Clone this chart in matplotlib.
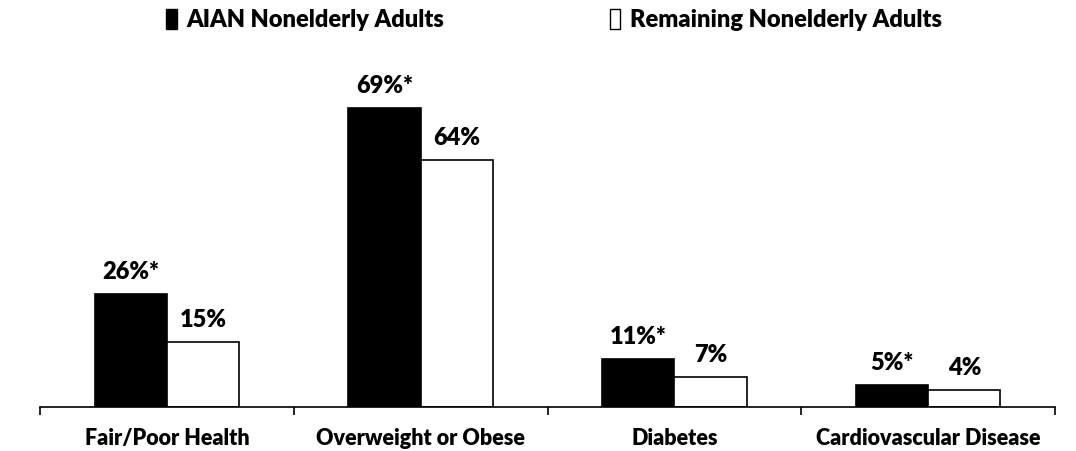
import numpy as np
import matplotlib.pyplot as plt
from matplotlib.patches import Patch

plt.rcParams['font.family'] = ['Lato', 'DejaVu Sans']
plt.rcParams['font.weight'] = 'bold'

categories = ['Fair/Poor Health', 'Overweight or Obese', 'Diabetes', 'Cardiovascular Disease']
aian = [26, 69, 11, 5]
remaining = [15, 57, 7, 4]  # bar heights as drawn in the picture
aian_labels = ['26%*', '69%*', '11%*', '5%*']
remaining_labels = ['15%', '64%', '7%', '4%']
series_names = ['AIAN Nonelderly Adults', 'Remaining Nonelderly Adults']

fig = plt.figure(figsize=(10.76, 4.51), dpi=100)
ax = fig.add_axes([40 / 1076, 44 / 451, 1015 / 1076, 347 / 451])

x = np.arange(len(categories))
w = 0.285
b1 = ax.bar(x - w / 2, aian, w, color='black', edgecolor='black', linewidth=1.2)
b2 = ax.bar(x + w / 2, remaining, w, color='white', edgecolor='black', linewidth=1.2)

for bars, labs in [(b1, aian_labels), (b2, remaining_labels)]:
    for bar, lab in zip(bars, labs):
        ax.annotate(lab, (bar.get_x() + bar.get_width() / 2, bar.get_height()),
                    xytext=(0, 8), textcoords='offset points',
                    ha='center', va='bottom', fontsize=17, fontweight='heavy')

ax.set_xlim(-0.5, len(categories) - 0.5)
ax.set_ylim(0, 80)
for s in ['left', 'right', 'top']:
    ax.spines[s].set_visible(False)
ax.spines['bottom'].set_linewidth(1.2)
ax.set_yticks([])
ax.set_xticks(x)
ax.set_xticklabels(categories, fontsize=15.5, fontweight='heavy')
ax.tick_params(axis='x', which='major', length=0, pad=15)
ax.set_xticks(np.arange(len(categories) + 1) - 0.5, minor=True)
ax.tick_params(axis='x', which='minor', length=6, width=1.2, direction='out')

handles = [Patch(facecolor='black', edgecolor='black'),
           Patch(facecolor='white', edgecolor='black')]
fig.legend(handles, series_names, loc='center', bbox_to_anchor=(554 / 1076, 1 - 20 / 451),
           ncol=2, frameon=False, prop={'size': 17, 'weight': 'heavy'},
           handlelength=0.45, handleheight=0.9, handletextpad=0.4, columnspacing=7)

fig.savefig('out.png', dpi=100)
